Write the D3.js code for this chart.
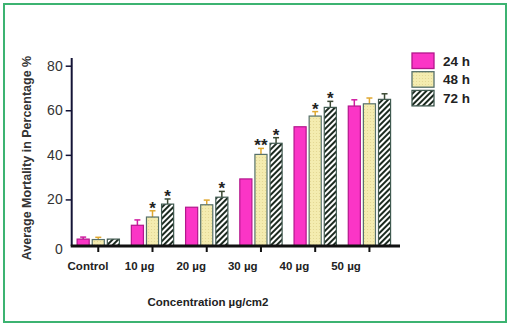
<!DOCTYPE html>
<html>
<head>
<meta charset="utf-8">
<script src="https://d3js.org/d3.v7.min.js"></script>
<style>
  body { margin: 0; background: #fff; }
  text { font-family: "Liberation Sans", "DejaVu Sans", sans-serif; }
</style>
</head>
<body>
<div id="my_dataviz"></div>
<script>
// data
const categories = ["Control", "10 µg", "20 µg", "30 µg", "40 µg", "50 µg"];
const series = ["24 h", "48 h", "72 h"];
const values24 = [2.2, 8.4, 16.5, 29.2, 52.6, 61.9];
const values48 = [2.0, 12.1, 17.6, 40.2, 57.4, 62.9];
const values72 = [2.2, 17.9, 21.0, 45.2, 61.3, 64.9];
const err24 = [0.9, 2.4, 0, 0, 0, 2.8];
const err48 = [1.0, 2.8, 2.1, 2.7, 2.0, 2.6];
const err72 = [0, 2.3, 2.6, 2.5, 2.7, 2.5];
const stars48 = ["", "*", "", "**", "*", ""];
const stars72 = ["", "*", "*", "*", "*", ""];
const yTicks = [0, 20, 40, 60, 80];

const W = 510, H = 326;
const svg = d3.select("#my_dataviz").append("svg")
  .attr("width", W).attr("height", H);

// patterns
const defs = svg.append("defs");
const dots = defs.append("pattern").attr("id", "dots")
  .attr("patternUnits", "userSpaceOnUse").attr("width", 3).attr("height", 3);
dots.append("rect").attr("width", 3).attr("height", 3).attr("fill", "#f4ecb0");
dots.append("circle").attr("cx", 1.5).attr("cy", 1.5).attr("r", 0.6).attr("fill", "#e2d590");

const hatch = defs.append("pattern").attr("id", "hatch")
  .attr("patternUnits", "userSpaceOnUse").attr("width", 4).attr("height", 4)
  .attr("patternTransform", "rotate(45)");
hatch.append("rect").attr("width", 4).attr("height", 4).attr("fill", "#fff");
hatch.append("rect").attr("width", 2).attr("height", 4).attr("fill", "#1c2a20");

// green frame
svg.append("rect")
  .attr("x", 4).attr("y", 4).attr("width", W - 8).attr("height", H - 8)
  .attr("fill", "none").attr("stroke", "#3cb371").attr("stroke-width", 2);

const x0 = 71.7;
const x = d3.scaleBand().domain(categories)
  .range([x0, 396]).paddingInner(0.22).paddingOuter(0.1);
const xs = d3.scaleBand().domain(series)
  .range([0, x.bandwidth()]).paddingInner(0.2);
const y = d3.scaleLinear().domain([0, 80]).range([244, 65.7]);
const base = 246;

const styles = {
  "24 h": { fill: "#fb35c6", stroke: "#b3168c", err: "#d01ca0" },
  "48 h": { fill: "url(#dots)", stroke: "#56706a", err: "#e0a830" },
  "72 h": { fill: "url(#hatch)", stroke: "#405a50", err: "#3c4a34" }
};
const valueMap = { "24 h": values24, "48 h": values48, "72 h": values72 };
const errMap = { "24 h": err24, "48 h": err48, "72 h": err72 };
const starMap = { "24 h": [], "48 h": stars48, "72 h": stars72 };

const rows = [];
categories.forEach((c, i) => {
  series.forEach(s => {
    rows.push({ cat: c, s: s, v: valueMap[s][i], e: errMap[s][i], star: starMap[s][i] || "" });
  });
});

const g = svg.append("g");

// error bars (behind bars)
rows.filter(d => d.e > 0).forEach(d => {
  const cx = x(d.cat) + xs(d.s) + xs.bandwidth() / 2;
  g.append("line")
    .attr("x1", cx).attr("x2", cx)
    .attr("y1", y(d.v)).attr("y2", y(d.v + d.e))
    .attr("stroke", styles[d.s].err).attr("stroke-width", 1.5);
  g.append("line")
    .attr("x1", cx - 3).attr("x2", cx + 3)
    .attr("y1", y(d.v + d.e)).attr("y2", y(d.v + d.e))
    .attr("stroke", styles[d.s].err).attr("stroke-width", 1.5);
});

// bars
g.selectAll(".bar").data(rows).join("rect")
  .attr("x", d => x(d.cat) + xs(d.s))
  .attr("width", xs.bandwidth())
  .attr("y", d => y(d.v))
  .attr("height", d => base - y(d.v))
  .attr("fill", d => styles[d.s].fill)
  .attr("stroke", d => styles[d.s].stroke)
  .attr("stroke-width", 1.2);

// asterisks
g.selectAll(".star").data(rows.filter(d => d.star)).join("text")
  .attr("x", d => x(d.cat) + xs(d.s) + xs.bandwidth() / 2)
  .attr("y", d => y(d.v + d.e) + 3)
  .attr("text-anchor", "middle")
  .attr("font-size", 17).attr("font-weight", "bold")
  .attr("fill", "#222")
  .text(d => d.star);

// y axis
const yAxis = svg.append("g")
  .attr("transform", `translate(${x0},0)`)
  .call(d3.axisLeft(y).tickValues(yTicks.filter(t => t > 0)).tickSize(6).tickFormat(d3.format("d")));
yAxis.select(".domain").attr("d", `M0,${base}V58`).attr("stroke", "#141436").attr("stroke-width", 2);
yAxis.selectAll(".tick line").attr("stroke", "#141436").attr("stroke-width", 1.5);
yAxis.selectAll(".tick text").attr("font-size", 14).attr("fill", "#333")
  .attr("font-family", "Liberation Sans, sans-serif").attr("x", -9);
svg.append("text")
  .attr("x", x0 - 9).attr("y", y(0) + 6).attr("dy", "0.32em")
  .attr("text-anchor", "end").attr("font-size", 14).attr("fill", "#333")
  .text(yTicks[0]);

// x axis
const xAxis = svg.append("g")
  .attr("transform", `translate(0,${base})`)
  .call(d3.axisBottom(x).tickSize(6).tickFormat(""));
xAxis.select(".domain").attr("d", `M${x0 - 1},0H400`).attr("stroke", "#111").attr("stroke-width", 3);
xAxis.selectAll(".tick line").attr("stroke", "#111").attr("stroke-width", 2);

// category labels (offset left of the ticks, as in the source)
const xl = d3.scalePoint().domain(categories).range([88, 346]);
svg.selectAll(".xlab").data(categories).join("text")
  .attr("x", d => xl(d)).attr("y", 270)
  .attr("text-anchor", "middle")
  .attr("font-size", 11.5).attr("font-weight", "bold").attr("fill", "#222")
  .text(d => d);

// axis titles
svg.append("text")
  .attr("x", 208).attr("y", 306)
  .attr("text-anchor", "middle")
  .attr("font-size", 11.5).attr("font-weight", "bold").attr("fill", "#222")
  .text("Concentration µg/cm2");
svg.append("text")
  .attr("transform", `translate(31,158) rotate(-90)`)
  .attr("text-anchor", "middle")
  .attr("font-size", 12.5).attr("font-weight", "bold").attr("fill", "#333")
  .text("Average Mortality in Percentage %");

// legend
const legend = svg.append("g").attr("transform", "translate(412,53)");
series.forEach((s, i) => {
  legend.append("rect")
    .attr("x", 0).attr("y", i * 18.7)
    .attr("width", 22).attr("height", 15.5)
    .attr("fill", styles[s].fill).attr("stroke", styles[s].stroke).attr("stroke-width", 1.3);
  legend.append("text")
    .attr("x", 31).attr("y", i * 18.7 + 8).attr("dy", "0.35em")
    .attr("font-size", 13.5).attr("font-weight", "bold").attr("fill", "#222")
    .text(s);
});
</script>
</body>
</html>
